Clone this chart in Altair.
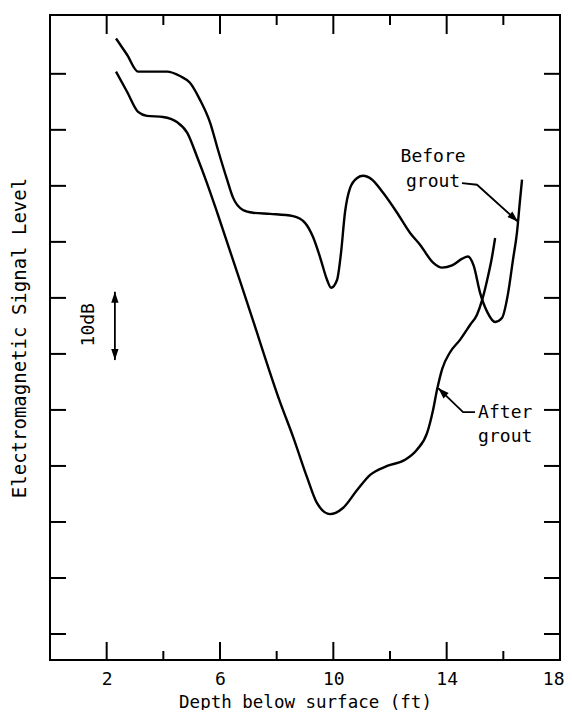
import altair as alt
import pandas as pd

# ---- data ----
before_depth = [2.33, 2.72, 3.11, 3.53, 4.13, 4.59, 4.94, 5.29, 5.65, 5.93, 6.25, 6.46, 6.81,
                7.17, 7.77, 8.58, 9.0, 9.28, 9.53, 9.78, 9.92, 10.13, 10.27, 10.41, 10.59,
                10.84, 11.05, 11.37, 11.75, 12.25, 12.71, 13.06, 13.52, 13.84, 14.19, 14.55,
                14.75, 14.95, 15.18, 15.43, 15.71, 15.95, 16.17, 16.34, 16.48, 16.59, 16.66]
before_level = [106.3, 103.4, 100.4, 100.4, 100.4, 99.6, 98.4, 95.4, 91.3, 86.4, 81.1, 77.9, 75.7,
                75.2, 75.0, 74.6, 73.4, 70.9, 67.3, 63.2, 61.8, 63.2, 68.0, 75.2, 79.6,
                81.4, 81.8, 81.1, 78.8, 75.2, 71.6, 69.5, 66.3, 65.4, 65.8, 67.0,
                67.4, 65.8, 60.9, 57.5, 55.7, 56.4, 60.9, 66.8, 71.6, 77.5, 81.1]

after_depth = [2.33, 2.72, 3.11, 3.42, 3.99, 4.48, 4.84, 5.19, 5.54, 5.93, 7.06, 8.12, 8.58,
               9.07, 9.42, 9.88, 10.34, 10.84, 11.3, 11.9, 12.53, 12.95, 13.31, 13.52, 13.66,
               13.84, 14.12, 14.47, 14.83, 15.07, 15.25, 15.43, 15.6, 15.71]
after_level = [100.4, 96.8, 93.2, 92.5, 92.3, 91.4, 89.5, 85.2, 80.5, 74.8, 57.6, 41.4, 35.2,
               28.0, 23.4, 21.4, 22.5, 25.7, 28.4, 30.0, 31.1, 32.9, 35.9, 40.0, 43.6,
               47.3, 50.3, 52.5, 55.2, 57.0, 59.6, 63.2, 67.3, 70.7]

x_label_values = [2, 6, 10, 14, 18]
x_major_ticks = [2, 6, 10, 14]
x_minor_ticks = [4, 8, 12, 16]
y_ticks = [0, 10, 20, 30, 40, 50, 60, 70, 80, 90, 100]

# annotation geometry (data units)
before_label_text = ["Before", "grout"]
before_label_x = [13.52, 13.52]
before_label_y = [85.2, 80.6]
before_arrow_x = [14.54, 15.07, 16.52]
before_arrow_y = [80.5, 80.2, 73.6]

after_label_text = ["After", "grout"]
after_label_x = [15.11, 15.11]
after_label_y = [39.5, 35.1]
after_arrow_x = [13.70, 14.58, 15.0]
after_arrow_y = [43.9, 39.6, 39.6]

db_label_text = ["10dB"]
db_label_x = [1.38]
db_label_y = [55.2]
db_arrow_x = [2.29]
db_arrow_top = [61.1]
db_arrow_bottom = [48.9]

W, H = 510, 645
X_DOMAIN = [0, 18]
Y_DOMAIN = [-4.64, 110.5]
FONT = "DejaVu Sans Mono"
ARROWHEAD = "M0,0L-0.7,2.1L0.7,2.1Z"

xs = alt.Scale(domain=X_DOMAIN, nice=False, zero=False)
ys = alt.Scale(domain=Y_DOMAIN, nice=False, zero=False)

curves = pd.concat([
    pd.DataFrame({"depth": before_depth, "level": before_level, "curve": "Before grout"}),
    pd.DataFrame({"depth": after_depth, "level": after_level, "curve": "After grout"}),
])

lines = alt.Chart(curves).mark_line(color="black", strokeWidth=2.4, interpolate="monotone").encode(
    x=alt.X("depth:Q", scale=xs,
            axis=alt.Axis(values=x_label_values, ticks=False, domain=False, grid=False,
                          labelFontSize=18, labelPadding=10, labelFlush=True,
                          labelFlushOffset=4,
                          labelColor="black", labelFont=FONT,
                          title="Depth below surface (ft)", titleFontSize=17.5,
                          titleFontWeight="normal", titlePadding=5, titleColor="black",
                          titleFont=FONT)),
    y=alt.Y("level:Q", scale=ys,
            axis=alt.Axis(labels=False, ticks=False, domain=False, grid=False,
                          title="Electromagnetic Signal Level", titleFontSize=19,
                          titleFontWeight="normal", titlePadding=21, titleColor="black",
                          titleFont=FONT)),
    detail="curve:N",
)

# inward tick marks
major_df = pd.DataFrame({"t": x_major_ticks})
minor_df = pd.DataFrame({"t": x_minor_ticks})
ytick_df = pd.DataFrame({"t": y_ticks})
tick_style = dict(color="black", strokeWidth=2)

bottom_major = alt.Chart(major_df).mark_rule(**tick_style).encode(
    x=alt.X("t:Q", scale=xs), y=alt.value(H - 18), y2=alt.value(H))
bottom_minor = alt.Chart(minor_df).mark_rule(**tick_style).encode(
    x=alt.X("t:Q", scale=xs), y=alt.value(H - 9), y2=alt.value(H))
top_major = alt.Chart(major_df).mark_rule(**tick_style).encode(
    x=alt.X("t:Q", scale=xs), y=alt.value(0), y2=alt.value(19))
top_minor = alt.Chart(minor_df).mark_rule(**tick_style).encode(
    x=alt.X("t:Q", scale=xs), y=alt.value(0), y2=alt.value(10))
left_ticks = alt.Chart(ytick_df).mark_rule(**tick_style).encode(
    y=alt.Y("t:Q", scale=ys), x=alt.value(0), x2=alt.value(16))
right_ticks = alt.Chart(ytick_df).mark_rule(**tick_style).encode(
    y=alt.Y("t:Q", scale=ys), x=alt.value(W - 16), x2=alt.value(W))

# annotations
before_txt = alt.Chart(pd.DataFrame({"text": before_label_text, "x": before_label_x,
                                     "y": before_label_y})).mark_text(
    align="center", baseline="middle", fontSize=18, font=FONT, color="black").encode(
    x=alt.X("x:Q", scale=xs), y=alt.Y("y:Q", scale=ys), text="text:N")
after_txt = alt.Chart(pd.DataFrame({"text": after_label_text, "x": after_label_x,
                                    "y": after_label_y})).mark_text(
    align="left", baseline="middle", fontSize=18, font=FONT, color="black").encode(
    x=alt.X("x:Q", scale=xs), y=alt.Y("y:Q", scale=ys), text="text:N")
db_txt = alt.Chart(pd.DataFrame({"text": db_label_text, "x": db_label_x,
                                 "y": db_label_y})).mark_text(
    align="center", baseline="middle", fontSize=18, font=FONT, color="black", angle=270).encode(
    x=alt.X("x:Q", scale=xs), y=alt.Y("y:Q", scale=ys), text="text:N")

arrow_df = pd.concat([
    pd.DataFrame({"x": before_arrow_x, "y": before_arrow_y, "a": "before"}),
    pd.DataFrame({"x": after_arrow_x, "y": after_arrow_y, "a": "after"}),
])
arrow_lines = alt.Chart(arrow_df).mark_line(color="black", strokeWidth=1.8).encode(
    x=alt.X("x:Q", scale=xs), y=alt.Y("y:Q", scale=ys), detail="a:N", order="x:Q")

head_style = dict(shape=ARROWHEAD, filled=True, color="black", opacity=1, size=110)
before_head = alt.Chart(pd.DataFrame({"x": before_arrow_x[-1:], "y": before_arrow_y[-1:]})).mark_point(
    angle=132, **head_style).encode(x=alt.X("x:Q", scale=xs), y=alt.Y("y:Q", scale=ys))
after_head = alt.Chart(pd.DataFrame({"x": after_arrow_x[:1], "y": after_arrow_y[:1]})).mark_point(
    angle=314, **head_style).encode(x=alt.X("x:Q", scale=xs), y=alt.Y("y:Q", scale=ys))

db_df = pd.DataFrame({"x": db_arrow_x, "top": db_arrow_top, "bottom": db_arrow_bottom})
db_rule = alt.Chart(db_df).mark_rule(color="black", strokeWidth=1.8).encode(
    x=alt.X("x:Q", scale=xs), y=alt.Y("top:Q", scale=ys), y2="bottom:Q")
db_head_top = alt.Chart(db_df).mark_point(angle=0, **head_style).encode(
    x=alt.X("x:Q", scale=xs), y=alt.Y("top:Q", scale=ys))
db_head_bottom = alt.Chart(db_df).mark_point(angle=180, **head_style).encode(
    x=alt.X("x:Q", scale=xs), y=alt.Y("bottom:Q", scale=ys))

chart = alt.layer(
    lines, bottom_major, bottom_minor, top_major, top_minor, left_ticks, right_ticks,
    arrow_lines, before_head, after_head, db_rule, db_head_top, db_head_bottom,
    before_txt, after_txt, db_txt,
).properties(
    width=W, height=H,
    autosize=alt.AutoSizeParams(type="none"),
    padding={"left": 42, "top": 7, "right": 4, "bottom": 50},
).configure(
    font=FONT, background="white"
).configure_view(
    stroke="black", strokeWidth=2
)

chart.save("out.html", embed_options={"renderer": "svg", "actions": False})
